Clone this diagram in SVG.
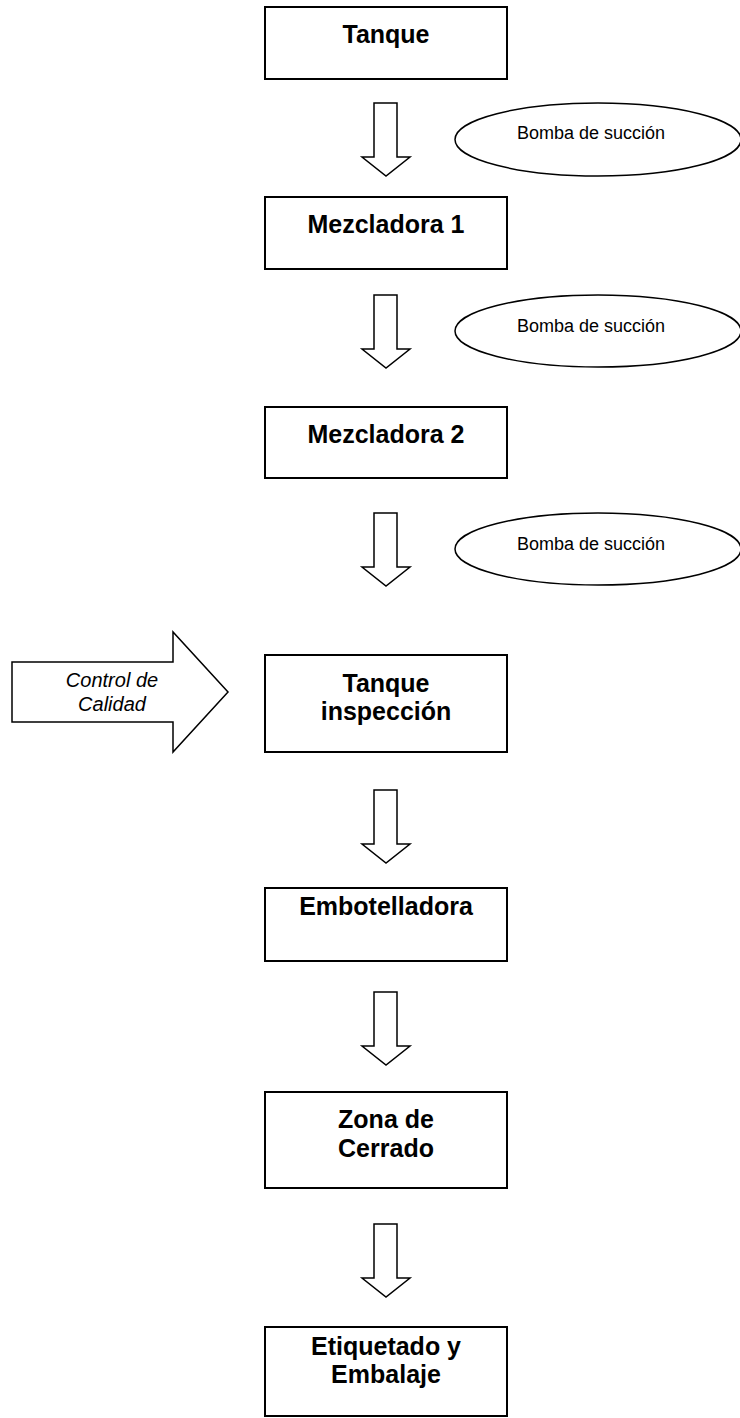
<svg xmlns="http://www.w3.org/2000/svg" width="740" height="1418" viewBox="0 0 740 1418">
<style>
.box{fill:#fff;stroke:#000;stroke-width:2}
.arr{fill:#fff;stroke:#000;stroke-width:1.5;stroke-linejoin:miter}
.ell{fill:#fff;stroke:#000;stroke-width:1.5}
.t{font-family:"Liberation Sans",Arial,sans-serif;font-weight:bold;font-size:25px;text-anchor:middle;fill:#000}
.s{font-family:"Liberation Sans",Arial,sans-serif;font-size:18px;text-anchor:middle;fill:#000}
.i{font-family:"Liberation Sans",Arial,sans-serif;font-style:italic;font-size:20px;text-anchor:middle;fill:#000}
</style>
<rect width="740" height="1418" fill="#fff"/>
<g id="connectors">
<path class="arr" d="M374,103 H397 V157 H410 L386,176 L362,157 H374 Z"/>
<path class="arr" d="M374,295 H397 V349 H410 L386,368 L362,349 H374 Z"/>
<path class="arr" d="M374,513 H397 V567 H410 L386,586 L362,567 H374 Z"/>
<path class="arr" d="M374,790 H397 V844 H410 L386,863 L362,844 H374 Z"/>
<path class="arr" d="M374,992 H397 V1046 H410 L386,1065 L362,1046 H374 Z"/>
<path class="arr" d="M374,1224 H397 V1278 H410 L386,1297 L362,1278 H374 Z"/>
</g>
<g id="tanque"><rect class="box" x="265" y="7" width="242" height="72"/><text class="t" x="386" y="43">Tanque</text></g>
<g id="bomba1"><ellipse class="ell" cx="598" cy="139.5" rx="143" ry="36.5"/><text class="s" x="591" y="139">Bomba de succión</text></g>
<g id="mezcladora1"><rect class="box" x="265" y="197" width="242" height="72"/><text class="t" x="386" y="233">Mezcladora 1</text></g>
<g id="bomba2"><ellipse class="ell" cx="598" cy="331" rx="143" ry="36"/><text class="s" x="591" y="332">Bomba de succión</text></g>
<g id="mezcladora2"><rect class="box" x="265" y="407" width="242" height="71"/><text class="t" x="386" y="443">Mezcladora 2</text></g>
<g id="bomba3"><ellipse class="ell" cx="598" cy="549" rx="143" ry="36"/><text class="s" x="591" y="550">Bomba de succión</text></g>
<g id="control"><path class="arr" d="M12,662 H173 V632 L228,692 L173,752 V722 H12 Z"/><text class="i" x="112" y="687">Control de</text><text class="i" x="112" y="711">Calidad</text></g>
<g id="inspeccion"><rect class="box" x="265" y="655" width="242" height="97"/><text class="t" x="386" y="692">Tanque</text><text class="t" x="386" y="720">inspección</text></g>
<g id="embotelladora"><rect class="box" x="265" y="888" width="242" height="73"/><text class="t" x="386" y="915">Embotelladora</text></g>
<g id="cerrado"><rect class="box" x="265" y="1092" width="242" height="96"/><text class="t" x="386" y="1128">Zona de</text><text class="t" x="386" y="1157">Cerrado</text></g>
<g id="etiquetado"><rect class="box" x="265" y="1327" width="242" height="89"/><text class="t" x="386" y="1355">Etiquetado y</text><text class="t" x="386" y="1383">Embalaje</text></g>
</svg>
